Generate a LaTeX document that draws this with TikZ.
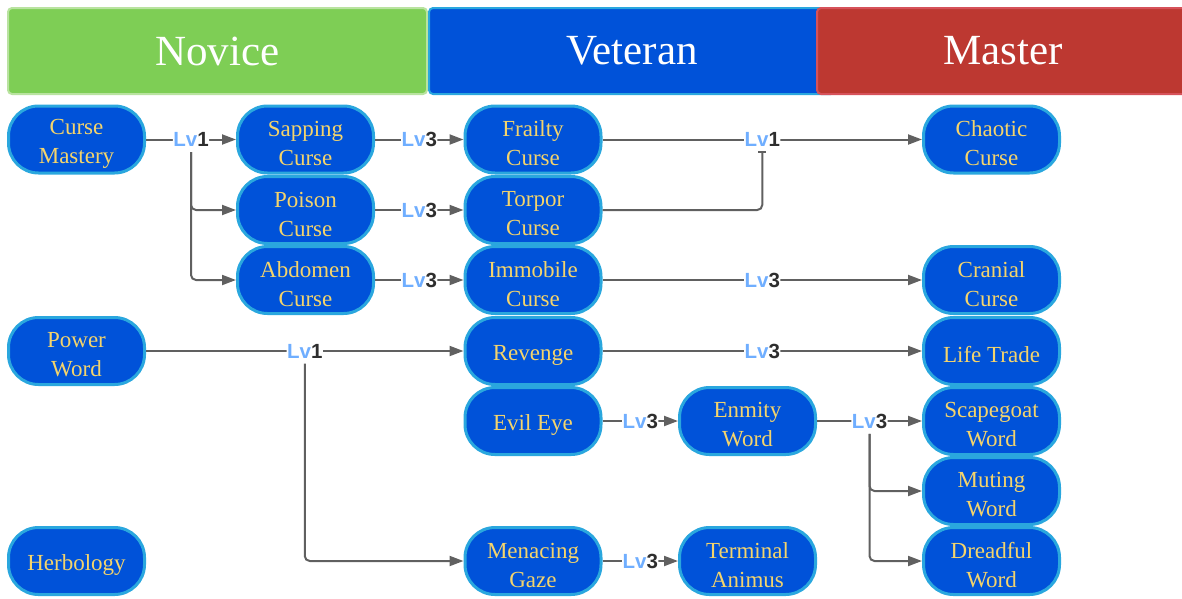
\documentclass[tikz,border=0pt]{standalone}
\usepackage{fontspec}
\setmainfont{Liberation Serif}
\newfontfamily\lvfont{Liberation Sans}
\usetikzlibrary{arrows.meta}

\definecolor{nodefill}{HTML}{0052D9}
\definecolor{nodeedge}{HTML}{2AA7DE}
\definecolor{nodetext}{HTML}{F4D46C}
\definecolor{linkgrey}{HTML}{606060}
\definecolor{lvblue}{HTML}{6FAEFF}
\definecolor{lvdark}{HTML}{2E2E2E}
\definecolor{novfill}{HTML}{7ECE55}
\definecolor{novedge}{HTML}{B9E3A0}
\definecolor{vetedge}{HTML}{2AA7DE}
\definecolor{masfill}{HTML}{BD3831}
\definecolor{masedge}{HTML}{D6525A}

\newcommand\lvtag[1]{\textcolor{lvblue}{Lv}\textcolor{lvdark}{#1}}

\tikzset{
  skilltext/.style={align=center, inner sep=0pt, text=nodetext, yshift=-4pt,
    font=\fontsize{23}{29}\selectfont},
  % the caption is set as a centred label, so it can sit a little below the middle
  skill/.style={draw=nodeedge, line width=3pt, fill=nodefill,
    rounded corners=30pt, minimum width=136pt, minimum height=67pt,
    inner sep=0pt, label={[skilltext]center:#1}},
  hdr/.style={line width=2pt, rounded corners=4pt, text=white,
    minimum height=86pt, inner sep=0pt, font=\fontsize{43}{43}\selectfont},
  lv/.style={fill=white, inner sep=0.5pt, font=\lvfont\bfseries\fontsize{20.5}{20.5}\selectfont},
  link/.style={draw=linkgrey, line width=2pt, rounded corners=5pt,
    -{Triangle[length=14pt,width=10pt]}},
}

\begin{document}
\begin{tikzpicture}[x=1pt, y=-1pt]
\useasboundingbox (0,0) rectangle (1182,598);
\clip (0,0) rectangle (1182,598);

% tier headers
\node[hdr, fill=novfill, draw=novedge, minimum width=419pt] (hnov) at (217.5,51) {Novice};
\node[hdr, fill=nodefill, draw=vetedge, minimum width=406pt] (hvet) at (632,51) {Veteran};
\node[hdr, fill=masfill, draw=masedge, minimum width=372pt] (hmas) at (1003,51) {Master};

% novice column
\node[skill={Curse\\Mastery}] (cm)   at (76.5,139.5) {};
\node[skill={Power\\Word}]    (pw)   at (76.5,351)   {};
\node[skill={Herbology}]      (herb) at (76.5,561)   {};

% curse column
\node[skill={Sapping\\Curse}] (sap) at (305.5,139.5) {};
\node[skill={Poison\\Curse}]  (poi) at (305.5,210)   {};
\node[skill={Abdomen\\Curse}] (abd) at (305.5,280)   {};

% veteran column
\node[skill={Frailty\\Curse}]  (fra)  at (533,139.5) {};
\node[skill={Torpor\\Curse}]   (tor)  at (533,210)   {};
\node[skill={Immobile\\Curse}] (imm)  at (533,280)   {};
\node[skill={Revenge}]         (rev)  at (533,351)   {};
\node[skill={Evil Eye}]        (evil) at (533,421)   {};
\node[skill={Menacing\\Gaze}]  (men)  at (533,561)   {};

\node[skill={Enmity\\Word}]     (enm)  at (747.5,421) {};
\node[skill={Terminal\\Animus}] (term) at (747.5,561) {};

% master column
\node[skill={Chaotic\\Curse}]  (cha)   at (991.5,139.5) {};
\node[skill={Cranial\\Curse}]  (cra)   at (991.5,280)   {};
\node[skill={Life Trade}]      (life)  at (991.5,351)   {};
\node[skill={Scapegoat\\Word}] (scape) at (991.5,421)   {};
\node[skill={Muting\\Word}]    (mut)   at (991.5,491)   {};
\node[skill={Dreadful\\Word}]  (dread) at (991.5,561)   {};

% curse mastery branches
\draw[link] (cm) -- node[lv] (l1) {\lvtag{1}} (sap);
\draw[link] ([yshift=-4pt]l1.south) |- (poi);
\draw[link] ([yshift=-4pt]l1.south) |- (abd);

\draw[link] (sap) -- node[lv] {\lvtag{3}} (fra);
\draw[link] (poi) -- node[lv] {\lvtag{3}} (tor);
\draw[link] (abd) -- node[lv] {\lvtag{3}} (imm);

\draw[link] (fra) -- node[lv] (l4) {\lvtag{1}} (cha);
\draw[link, -{Bar[width=8pt]}] (tor) -| ([yshift=-3pt]l4.south);
\draw[link] (imm) -- node[lv] {\lvtag{3}} (cra);

% power word branches
\draw[link] (pw) -- node[lv] (lp) {\lvtag{1}} (rev);
\draw[link] ([yshift=-4pt]lp.south) |- (men);

\draw[link] (rev) -- node[lv] {\lvtag{3}} (life);
\draw[link] (evil) -- node[lv] {\lvtag{3}} (enm);
\draw[link] (men) -- node[lv] {\lvtag{3}} (term);

\draw[link] (enm) -- node[lv] (le) {\lvtag{3}} (scape);
\draw[link] ([yshift=-4pt]le.south) |- (mut);
\draw[link] ([yshift=-4pt]le.south) |- (dread);
\end{tikzpicture}
\end{document}
